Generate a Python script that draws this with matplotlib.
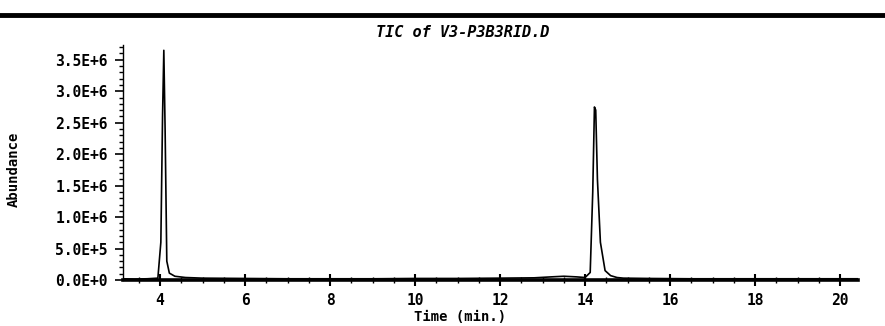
import matplotlib.pyplot as plt
from matplotlib.lines import Line2D
from matplotlib.ticker import FixedLocator, FixedFormatter, MultipleLocator

# TIC trace (time in min, abundance)
time_min = [3.13, 3.4, 3.7, 3.95, 4.02, 4.06, 4.09, 4.12, 4.16, 4.22, 4.35,
            4.6, 5.0, 6.0, 7.0, 8.0, 9.0, 10.0, 11.0, 12.0, 12.8, 13.2,
            13.5, 13.8, 14.0, 14.12, 14.18, 14.22, 14.25, 14.29, 14.36,
            14.47, 14.6, 14.75, 14.9, 15.5, 16.5, 17.5, 18.5, 19.5, 20.4]
abundance = [2.0e4, 1.5e4, 2.0e4, 3.0e4, 6.0e5, 2.6e6, 3.65e6, 2.4e6, 3.0e5,
             1.1e5, 6.0e4, 4.0e4, 3.0e4, 2.5e4, 2.0e4, 2.0e4, 2.0e4, 2.5e4,
             2.5e4, 3.0e4, 3.5e4, 5.0e4, 6.0e4, 5.0e4, 4.0e4, 1.2e5, 1.4e6,
             2.75e6, 2.7e6, 1.6e6, 6.0e5, 1.5e5, 7.0e4, 4.0e4, 3.0e4, 2.5e4,
             2.0e4, 2.0e4, 2.0e4, 2.0e4, 2.0e4]

x_ticks = [4, 6, 8, 10, 12, 14, 16, 18, 20]
y_ticks = [0, 5e5, 1e6, 1.5e6, 2e6, 2.5e6, 3e6, 3.5e6]
y_labels = ["0.0E+0", "5.0E+5", "1.0E+6", "1.5E+6", "2.0E+6", "2.5E+6",
            "3.0E+6", "3.5E+6"]

title = "TIC of V3-P3B3RID.D"
mono = "DejaVu Sans Mono"

fig = plt.figure(figsize=(8.85, 3.26), dpi=100)
ax = fig.add_axes([0.139, 0.141, 0.8305, 0.72])

ax.plot(time_min, abundance, color="black", lw=1.2)

ax.set_xlim(3.13, 20.42)
ax.set_ylim(0, 3.73e6)

for side in ["top", "right"]:
    ax.spines[side].set_visible(False)
ax.spines["bottom"].set_linewidth(2.6)
ax.spines["left"].set_linewidth(1.0)

ax.xaxis.set_major_locator(FixedLocator(x_ticks))
ax.xaxis.set_minor_locator(MultipleLocator(0.5))
ax.yaxis.set_major_locator(FixedLocator(y_ticks))
ax.yaxis.set_major_formatter(FixedFormatter(y_labels))
ax.yaxis.set_minor_locator(MultipleLocator(1e5))

ax.tick_params(axis="x", which="major", direction="inout", length=8, width=1.5,
               pad=5, labelsize=10.5)
ax.tick_params(axis="x", which="minor", direction="inout", length=5, width=1.0)
ax.tick_params(axis="y", which="major", direction="out", length=6, width=1.2,
               pad=5, labelsize=10.5)
ax.tick_params(axis="y", which="minor", direction="out", length=3, width=1.0)
for lab in ax.get_xticklabels() + ax.get_yticklabels():
    lab.set_fontfamily(mono)
    lab.set_fontweight("bold")

fig.text(0.52, 0.028, "Time (min.)", ha="center", va="center",
         fontfamily=mono, fontsize=10, fontweight="bold")
fig.text(0.016, 0.48, "Abundance", rotation=90, va="center", ha="center",
         fontfamily=mono, fontsize=10, fontweight="bold")

fig.text(0.523, 0.9, title, ha="center", va="center", fontfamily=mono,
         fontsize=11, fontweight="bold", style="italic")

# heavy rule across the top of the printout
fig.add_artist(Line2D([0, 1], [0.953, 0.953], transform=fig.transFigure,
                      color="black", lw=3.5))

fig.savefig("out.png", dpi=100, facecolor="white")
plt.close(fig)
